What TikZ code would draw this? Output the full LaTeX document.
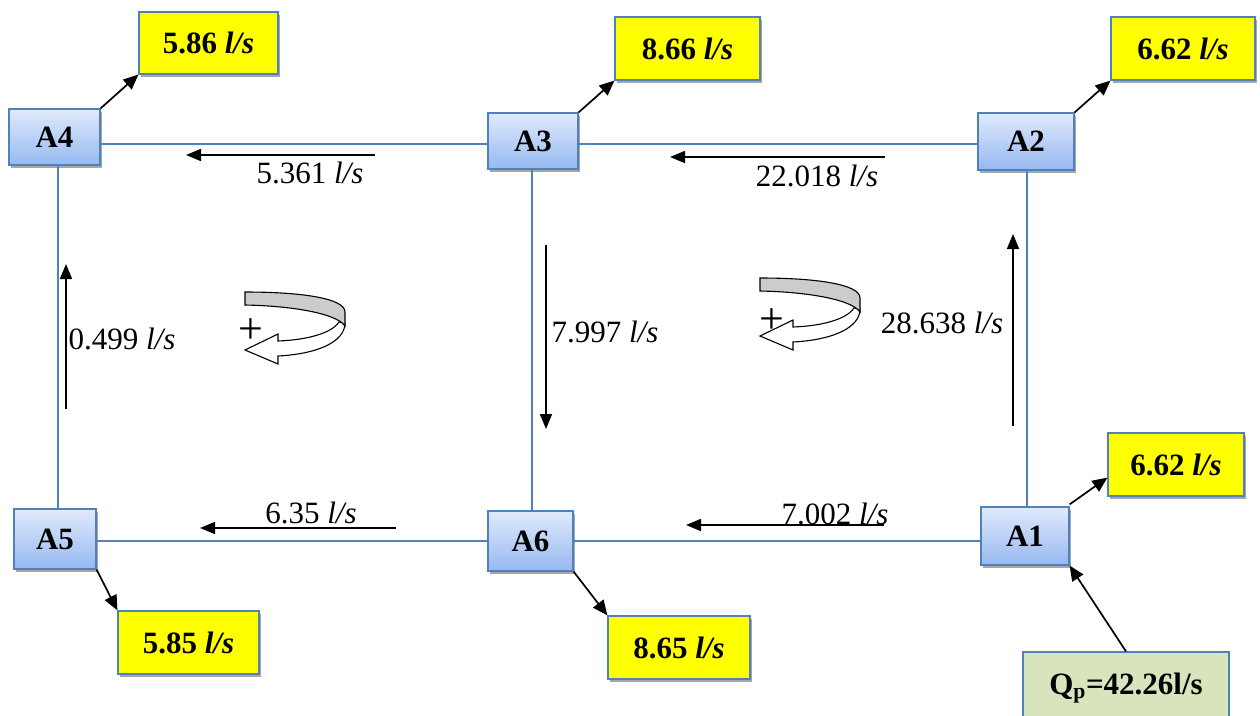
\documentclass[tikz,border=0pt]{standalone}
\usepackage{fontspec}
\setmainfont{Liberation Serif}
\usetikzlibrary{arrows.meta,shadows}
\definecolor{pipeblue}{RGB}{79,129,189}
\definecolor{nodetop}{RGB}{224,234,252}
\definecolor{nodebot}{RGB}{150,185,240}
\definecolor{demyellow}{RGB}{255,255,0}
\definecolor{srcgreen}{RGB}{215,228,188}
\newcommand\looparrow[1]{%
  \begin{scope}[shift={#1}]
    \draw[line width=1.1pt, fill=white, line join=miter]
      (100,31) .. controls (100,50) and (72,62) .. (33,64) -- (33,72) -- (0,58) -- (33,42) -- (33,49)
      .. controls (60,48) and (86,42) .. (94,30) -- cycle;
    \draw[line width=1.1pt, fill=gray!40]
      (0,0) .. controls (55,0) and (100,6) .. (100,20) -- (100,34)
      .. controls (92,22) and (50,14) .. (0,13) -- cycle;
  \end{scope}}
\begin{document}
\begin{tikzpicture}[x=1pt,y=-1pt,
  font=\fontsize{31}{36}\selectfont,
  shad/.style={drop shadow={shadow xshift=1.5pt,shadow yshift=-3pt,fill=black!35,opacity=1}},
  junction/.style={draw=pipeblue, line width=1.2pt, top color=nodetop, bottom color=nodebot,
    inner sep=0pt, font=\fontsize{31}{36}\selectfont\bfseries, shad},
  demand/.style={draw=pipeblue, line width=1.2pt, fill=demyellow, inner sep=0pt,
    minimum width=141pt, minimum height=63pt, font=\fontsize{31}{36}\selectfont\bfseries, shad},
  source/.style={draw=pipeblue, line width=1.2pt, fill=srcgreen, inner sep=0pt,
    minimum width=206pt, minimum height=72pt, font=\fontsize{31}{36}\selectfont\bfseries},
  pipe/.style={draw=pipeblue, line width=1.3pt},
  flow/.style={-{Triangle[length=15pt,width=12pt]}, line width=1.7pt},
  dem/.style={-{Triangle[length=15pt,width=13pt]}, line width=1.7pt},
  lbl/.style={inner sep=0pt},
  plus/.style={inner sep=0pt, font=\fontsize{44}{48}\selectfont}
]
\useasboundingbox (0,0) rectangle (1260,715);

% junctions
\node[junction, minimum width=91pt, minimum height=56pt] (A4) at (54.5,137) {A4};
\node[junction, minimum width=90pt, minimum height=56pt] (A3) at (533,141) {A3};
\node[junction, minimum width=96pt, minimum height=57pt] (A2) at (1026,141.5) {A2};
\node[junction, minimum width=88pt, minimum height=58pt] (A1) at (1025,536) {A1};
\node[junction, minimum width=82pt, minimum height=60pt] (A5) at (55,539) {A5};
\node[junction, minimum width=85pt, minimum height=60pt] (A6) at (530.5,541) {A6};

% demands
\node[demand, minimum width=139pt, minimum height=62pt] (D4) at (208.5,43) {5.86 \textit{l/s}};
\node[demand, minimum width=145pt] (D3) at (687.5,48.5) {8.66 \textit{l/s}};
\node[demand, minimum width=144pt] (D2) at (1183,48.5) {6.62 \textit{l/s}};
\node[demand, minimum width=136pt] (D1) at (1176,464.5) {6.62 \textit{l/s}};
\node[demand] (D5) at (188.5,642.5) {5.85 \textit{l/s}};
\node[demand, minimum width=142pt] (D6) at (679,647.5) {8.65 \textit{l/s}};
\node[source] (Q) at (1126,688) {Q\textsubscript{p}=42.26l/s};

% pipe levels
\coordinate (ytop) at (0,144);
\coordinate (ybot) at (0,541);
\coordinate (xl) at (58,0);
\coordinate (xm) at (532,0);
\coordinate (xr) at (1027,0);

\draw[pipe] (A4.east |- ytop) -- (A3.west |- ytop);
\draw[pipe] (A3.east |- ytop) -- (A2.west |- ytop);
\draw[pipe] (A5.east |- ybot) -- (A6.west |- ybot);
\draw[pipe] (A6.east |- ybot) -- (A1.west |- ybot);
\draw[pipe] (xl |- A4.south) -- (xl |- A5.north);
\draw[pipe] (xm |- A3.south) -- (xm |- A6.north);
\draw[pipe] (xr |- A2.south) -- (xr |- A1.north);

% demand arrows
\draw[dem] (A4.north east) -- (D4.south west);
\draw[dem] (A3.north east) -- (D3.south west);
\draw[dem] (A2.north east) -- (D2.south west);
\draw[dem] ([yshift=2pt]A1.north east) -- ([yshift=19pt]D1.south west);
\draw[dem] (A5.south east) -- (D5.north west);
\draw[dem] (A6.south east) -- (D6.north west);
\draw[dem] (Q.north) -- (A1.south east);

% flow arrows
\coordinate (f1s) at (375,155); \coordinate (f1e) at (186,155);
\coordinate (f2s) at (885,157); \coordinate (f2e) at (670,157);
\coordinate (f3s) at (66,409);  \coordinate (f3e) at (66,264);
\coordinate (f4s) at (546,245); \coordinate (f4e) at (546,429);
\coordinate (f5s) at (1013,426); \coordinate (f5e) at (1013,234);
\coordinate (f6s) at (396,528); \coordinate (f6e) at (200,528);
\coordinate (f7s) at (884,525); \coordinate (f7e) at (686,525);
\draw[flow] (f1s) -- (f1e);
\draw[flow] (f2s) -- (f2e);
\draw[flow] (f3s) -- (f3e);
\draw[flow] (f4s) -- (f4e);
\draw[flow] (f5s) -- (f5e);
\draw[flow] (f6s) -- (f6e);
\draw[flow] (f7s) -- (f7e);

\node[lbl] (L1) at (310,173) {5.361 \textit{l/s}};
\node[lbl] (L2) at (817,176) {22.018 \textit{l/s}};
\node[lbl] (L3) at (122,339) {0.499 \textit{l/s}};
\node[lbl] (L4) at (605,332) {7.997 \textit{l/s}};
\node[lbl] (L5) at (942,323) {28.638 \textit{l/s}};
\node[lbl] (L6) at (311,513) {6.35 \textit{l/s}};
\node[lbl] (L7) at (835,514) {7.002 \textit{l/s}};

% loop direction symbols
\looparrow{(245,292)}
\looparrow{(760,278)}
\node[plus] (P1) at (251,331) {+};
\node[plus] (P2) at (772,321) {+};
\end{tikzpicture}
\end{document}
